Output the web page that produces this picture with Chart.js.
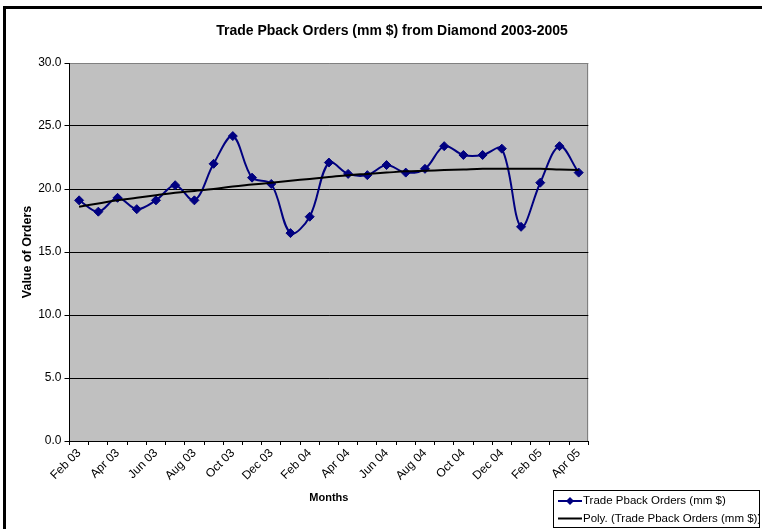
<!DOCTYPE html>
<html>
<head>
<meta charset="utf-8">
<script src="https://cdn.jsdelivr.net/npm/chart.js@4/dist/chart.umd.min.js"></script>
<style>
  html, body { margin: 0; padding: 0; background: #fff; overflow: hidden; }
  #wrap { position: relative; width: 762px; height: 529px; }
</style>
</head>
<body>
<div id="wrap"><canvas id="c" width="762" height="529"></canvas></div>
<script>
// Monthly categories, Feb 2003 – Apr 2005
const months = [
  'Feb 03', 'Mar 03', 'Apr 03', 'May 03', 'Jun 03', 'Jul 03', 'Aug 03', 'Sep 03', 'Oct 03', 'Nov 03', 'Dec 03',
  'Jan 04', 'Feb 04', 'Mar 04', 'Apr 04', 'May 04', 'Jun 04', 'Jul 04', 'Aug 04', 'Sep 04', 'Oct 04', 'Nov 04', 'Dec 04',
  'Jan 05', 'Feb 05', 'Mar 05', 'Apr 05'
];

// Trade Pback Orders (mm $)
const orders = [
  19.1, 18.2, 19.3, 18.4, 19.1, 20.3, 19.1, 22.0, 24.2, 20.9, 20.4,
  16.5, 17.8, 22.1, 21.2, 21.1, 21.9, 21.3, 21.6, 23.4, 22.7, 22.7, 23.2,
  17.0, 20.5, 23.4, 21.3
];

// Polynomial trend line values per month
const polyTrend = [
  18.6, 18.85, 19.1, 19.3, 19.5, 19.7, 19.85, 20.0, 20.2, 20.35, 20.5,
  20.65, 20.8, 20.95, 21.1, 21.2, 21.3, 21.4, 21.45, 21.5, 21.55, 21.6, 21.6,
  21.6, 21.6, 21.55, 21.5
];

const seriesName = 'Trade Pback Orders (mm $)';
const trendName = 'Poly. (Trade Pback Orders (mm $))';
const chartTitle = 'Trade Pback Orders (mm $) from Diamond 2003-2005';
const yTitle = 'Value of Orders';
const xTitle = 'Months';
const yMin = 0, yMax = 30, yStep = 5;

const FONT = "'Liberation Sans', Arial, sans-serif";
Chart.defaults.font.family = FONT;
Chart.defaults.color = '#000';

// Frame, plot background and title
const frame = {
  id: 'frame',
  beforeDraw(chart) {
    const { ctx, chartArea: a } = chart;
    ctx.save();
    ctx.fillStyle = '#fff';
    ctx.fillRect(0, 0, chart.width, chart.height);
    ctx.fillStyle = '#000';
    ctx.fillRect(3, 6, 3, chart.height - 6);
    ctx.fillRect(3, 6, chart.width - 3, 3);
    ctx.fillStyle = '#c0c0c0';
    ctx.fillRect(a.left, a.top, a.right - a.left, a.bottom - a.top);
    ctx.strokeStyle = '#808080';
    ctx.lineWidth = 1;
    ctx.beginPath();
    ctx.moveTo(Math.round(a.right) - 0.5, a.top);
    ctx.lineTo(Math.round(a.right) - 0.5, a.bottom);
    ctx.stroke();
    ctx.font = 'bold 14px ' + FONT;
    ctx.fillStyle = '#000';
    ctx.textAlign = 'center';
    ctx.textBaseline = 'middle';
    ctx.fillText(chartTitle, 392, 31);
    ctx.restore();
  }
};

// Boxed legend in the lower right corner
const boxLegend = {
  id: 'boxLegend',
  afterDraw(chart) {
    const { ctx } = chart;
    const bx = 553.5, by = 490.5, bw = 206, bh = 37;
    ctx.save();
    ctx.beginPath();
    ctx.rect(bx, by, bw, bh);
    ctx.clip();
    ctx.font = '11.5px ' + FONT;
    ctx.textBaseline = 'middle';
    ctx.textAlign = 'left';
    const rows = [
      { ds: chart.data.datasets[0], y: 501 },
      { ds: chart.data.datasets[1], y: 518.5 }
    ];
    rows.forEach(r => {
      ctx.strokeStyle = r.ds.borderColor;
      ctx.lineWidth = 2;
      ctx.beginPath();
      ctx.moveTo(558, r.y);
      ctx.lineTo(582, r.y);
      ctx.stroke();
      if (r.ds.pointRadius > 0) {
        ctx.fillStyle = r.ds.backgroundColor;
        ctx.beginPath();
        ctx.moveTo(570, r.y - 4);
        ctx.lineTo(574, r.y);
        ctx.lineTo(570, r.y + 4);
        ctx.lineTo(566, r.y);
        ctx.closePath();
        ctx.fill();
      }
      ctx.fillStyle = '#000';
      ctx.fillText(r.ds.label, 583, r.y);
    });
    ctx.restore();
    ctx.save();
    ctx.strokeStyle = '#000';
    ctx.lineWidth = 1;
    ctx.strokeRect(bx, by, bw, bh);
    ctx.restore();
  }
};

new Chart(document.getElementById('c'), {
  type: 'line',
  data: {
    labels: months,
    datasets: [
      {
        label: seriesName,
        data: orders,
        borderColor: '#000080',
        backgroundColor: '#000080',
        borderWidth: 2,
        tension: 0.35,
        pointStyle: 'rectRot',
        pointRadius: 4.5,
        pointBorderWidth: 1,
        order: 1
      },
      {
        label: trendName,
        data: polyTrend,
        borderColor: '#000',
        backgroundColor: '#000',
        borderWidth: 2,
        tension: 0.4,
        pointRadius: 0,
        order: 0
      }
    ]
  },
  options: {
    responsive: false,
    animation: false,
    devicePixelRatio: 1,
    layout: { padding: { top: 63, right: 173.7, bottom: 0, left: 0 } },
    plugins: {
      legend: { display: false },
      title: { display: false },
      tooltip: { enabled: false }
    },
    scales: {
      x: {
        type: 'category',
        offset: true,
        afterFit(s) { s.height = 88; },
        grid: {
          display: true,
          offset: true,
          drawOnChartArea: false,
          drawTicks: true,
          tickLength: 4,
          tickColor: '#000'
        },
        border: { display: true, color: '#000', width: 1 },
        ticks: {
          autoSkip: false,
          minRotation: 45,
          maxRotation: 45,
          padding: 1,
          font: { size: 12 },
          color: '#000',
          callback(v, i) { return i % 2 === 0 ? months[i] : ''; }
        },
        title: {
          display: true,
          text: xTitle,
          font: { size: 11, weight: 'bold' },
          color: '#000',
          padding: { top: 0, bottom: 24.4 }
        }
      },
      y: {
        min: yMin,
        max: yMax,
        afterFit(s) { s.width = 69.5; },
        grid: {
          color(c) { return c.tick && c.tick.value === yMax ? '#808080' : '#000'; },
          tickColor: '#000',
          tickLength: 5,
          lineWidth: 1
        },
        border: { display: true, color: '#000', width: 1 },
        ticks: {
          stepSize: yStep,
          padding: 3,
          font: { size: 12 },
          color: '#000',
          callback(v) { return Number(v).toFixed(1); }
        },
        title: {
          display: true,
          text: yTitle,
          font: { size: 12.5, weight: 'bold' },
          color: '#000',
          padding: { top: 20.5, bottom: 0 }
        }
      }
    }
  },
  plugins: [frame, boxLegend]
});
</script>
</body>
</html>
